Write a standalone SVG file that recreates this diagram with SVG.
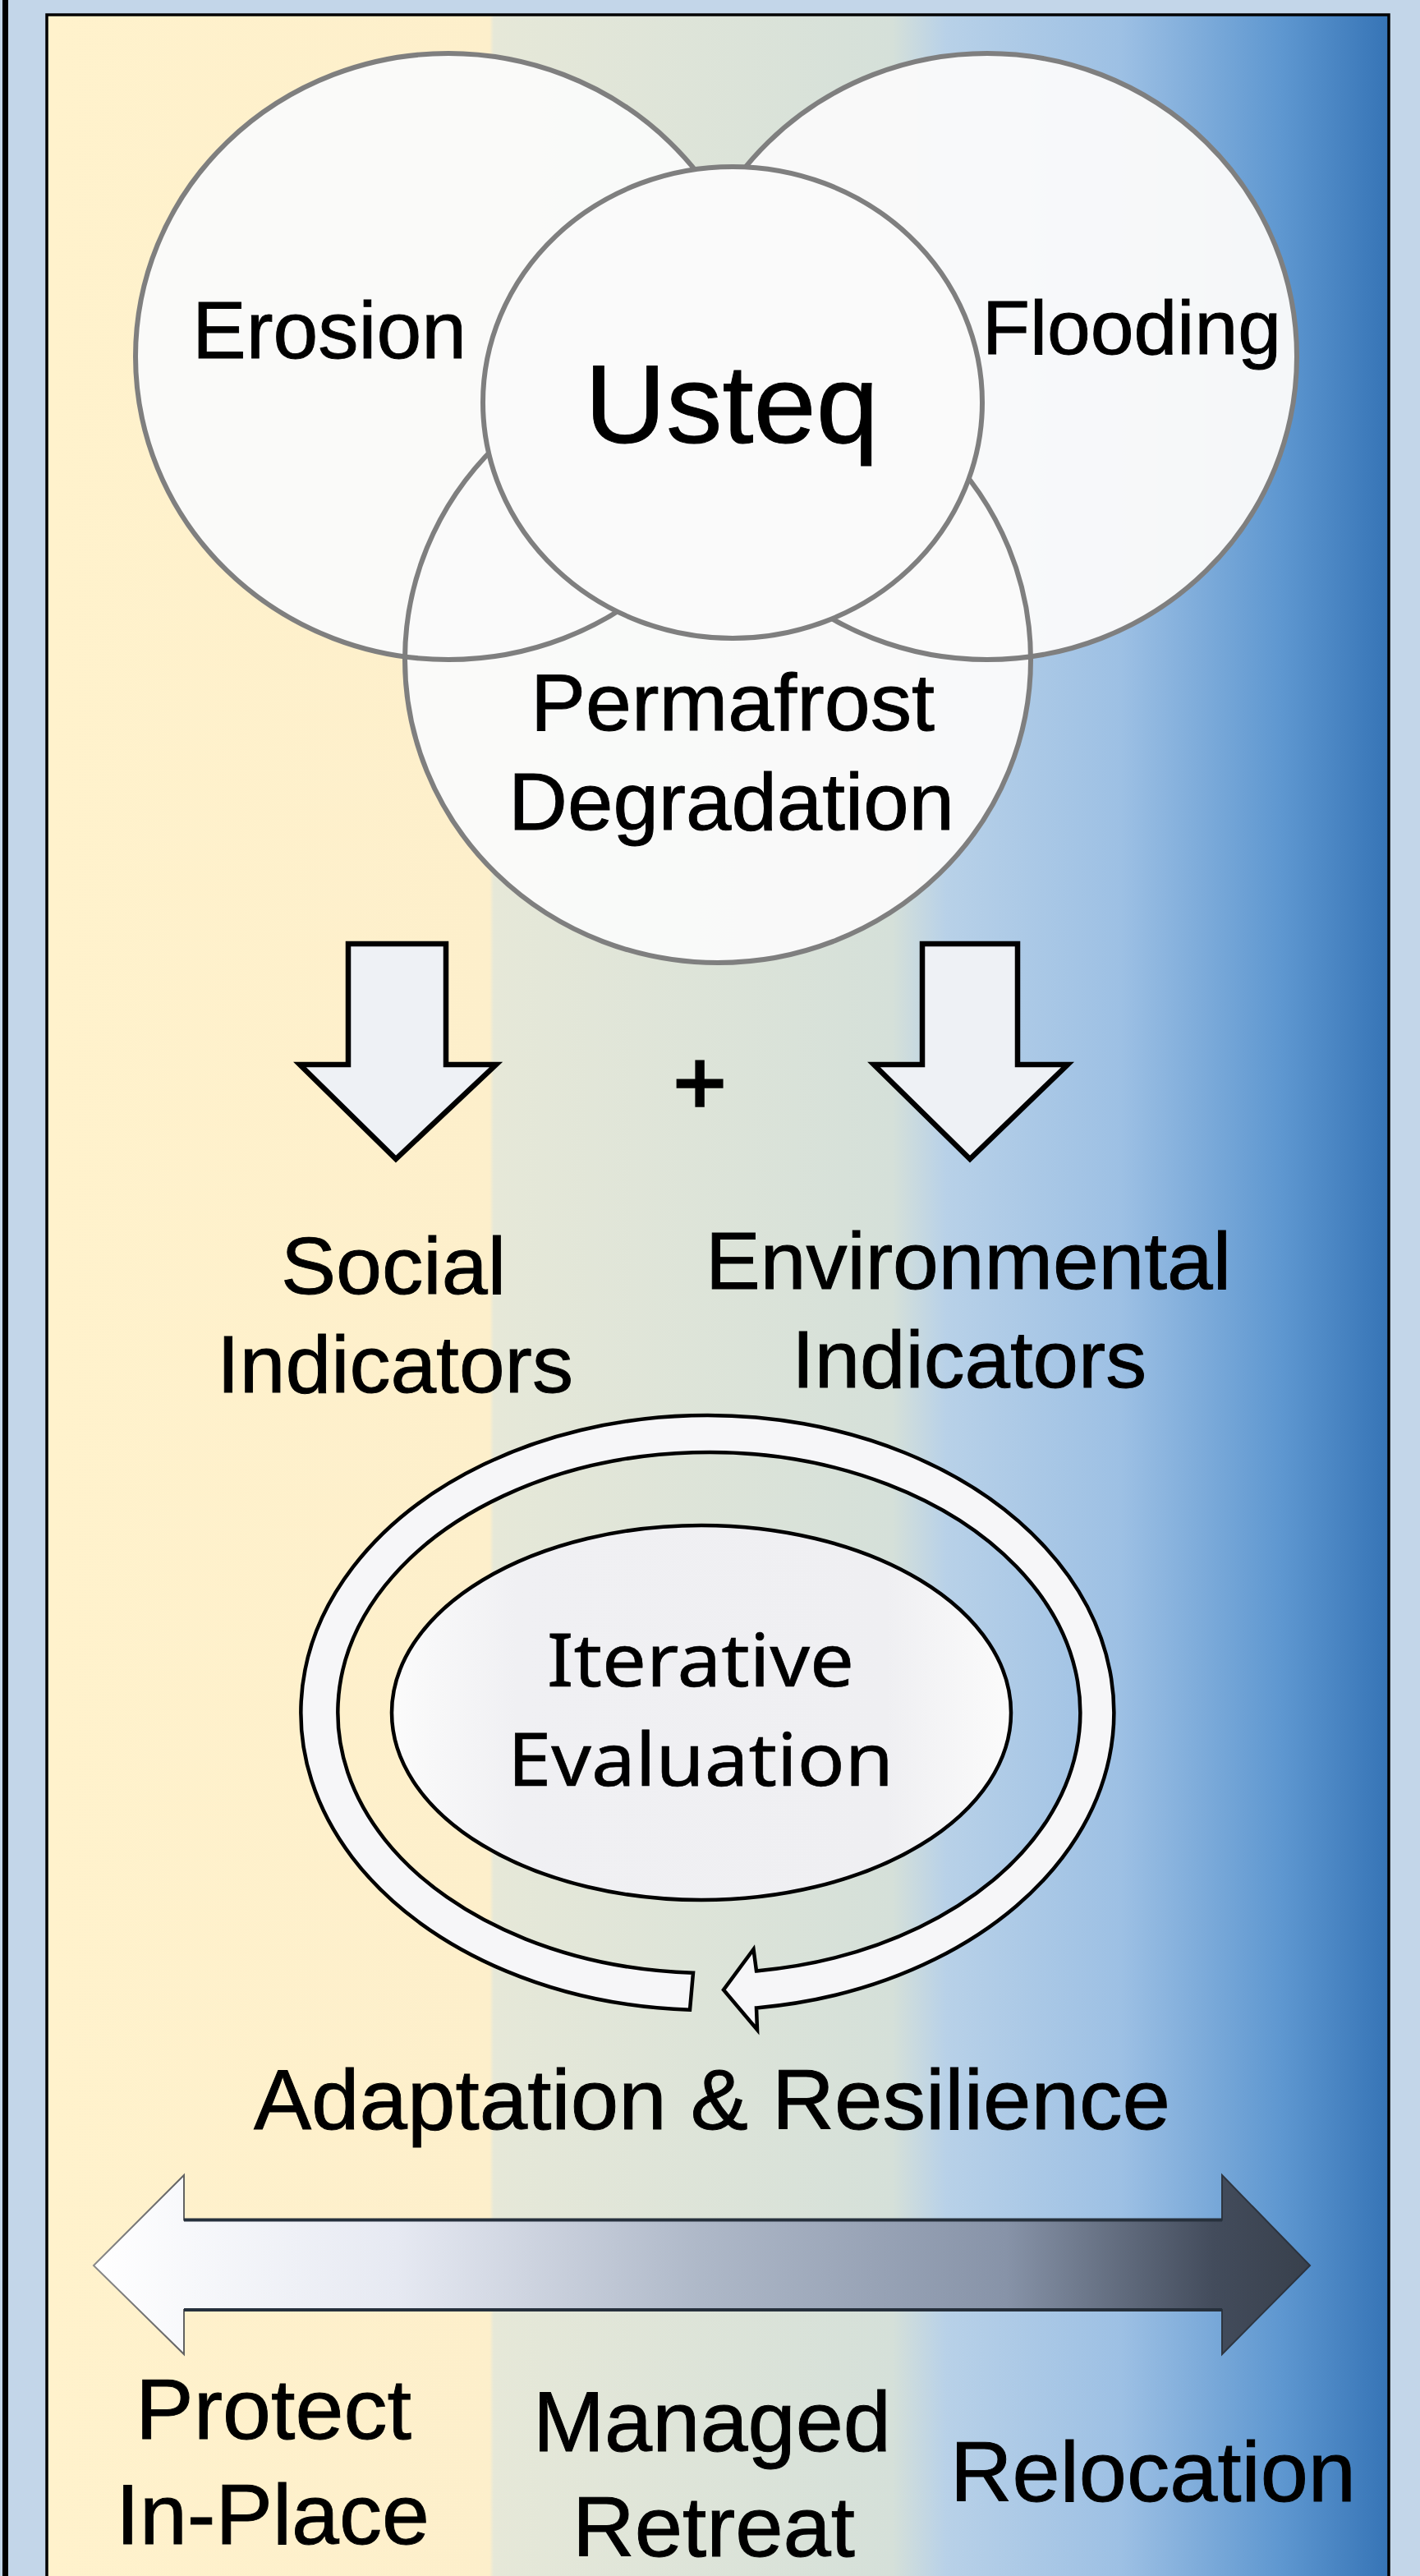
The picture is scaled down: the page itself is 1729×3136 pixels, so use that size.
<svg xmlns="http://www.w3.org/2000/svg" width="1729" height="3136" viewBox="0 0 1729 3136">
<defs>
<linearGradient id="bg" gradientUnits="userSpaceOnUse" x1="57" y1="0" x2="1691" y2="0">
<stop offset="0" stop-color="#FFF2CC"/><stop offset="0.33" stop-color="#FDEFCB"/><stop offset="0.333" stop-color="#E6E8D8"/>
<stop offset="0.63" stop-color="#D5E0D9"/><stop offset="0.67" stop-color="#B8D1E8"/><stop offset="0.8" stop-color="#9DC0E4"/>
<stop offset="0.92" stop-color="#5E97D0"/><stop offset="1" stop-color="#3674B6"/>
</linearGradient>
<linearGradient id="bar" gradientUnits="userSpaceOnUse" x1="114" y1="0" x2="1595" y2="0">
<stop offset="0" stop-color="#FFFFFF"/><stop offset="0.25" stop-color="#E6E9F2"/><stop offset="0.5" stop-color="#AEB8C8"/>
<stop offset="0.75" stop-color="#8793A8"/><stop offset="0.92" stop-color="#434C5C"/><stop offset="1" stop-color="#38404C"/>
</linearGradient>
<linearGradient id="barStroke" gradientUnits="userSpaceOnUse" x1="114" y1="0" x2="1595" y2="0">
<stop offset="0" stop-color="#8A8A8A"/><stop offset="0.1" stop-color="#555555"/><stop offset="1" stop-color="#2A323E"/>
</linearGradient>
<linearGradient id="core" x1="0" y1="0" x2="1" y2="0">
<stop offset="0" stop-color="#FBFBFB"/><stop offset="0.2" stop-color="#F0F0F3"/><stop offset="0.8" stop-color="#EFEFF2"/><stop offset="1" stop-color="#FBFBFB"/>
</linearGradient>
</defs>
<style>
.t{font-family:"Liberation Sans",Arial,sans-serif;fill:#000;stroke:#000;stroke-width:.9}
.n{font-family:"Noto Sans","Open Sans",sans-serif;fill:#000;stroke:#000;stroke-width:.6}
.f{fill:#FAFAFA;fill-opacity:.97;stroke:none}
.s{fill:none;stroke:#7F7F7F;stroke-width:6}
.k{fill:#EEF1F5;stroke:#000;stroke-width:6.5;stroke-linejoin:miter}
</style>
<rect id="outer" width="1729" height="3136" fill="#C3D6E9"/>
<rect id="edge" x="3" y="0" width="7" height="3136" fill="#000"/>
<rect id="panel" x="57" y="18" width="1634" height="3130" fill="url(#bg)" stroke="#000" stroke-width="3.5"/>

<g id="connectors">
<polygon class="k" points="424,1149 543,1149 543,1296 604,1296 482,1411 365,1296 424,1296"/>
<polygon class="k" points="1123,1149 1239,1149 1239,1296 1300,1296 1181,1411 1064,1296 1123,1296"/>
</g>

<g id="circle-erosion">
<ellipse class="f" cx="546" cy="434" rx="381" ry="369"/>
<text class="t" x="234" y="436" font-size="98" textLength="334" lengthAdjust="spacingAndGlyphs">Erosion</text>
</g>
<g id="circle-flooding">
<ellipse class="f" cx="1202" cy="434" rx="377" ry="369"/>
<text class="t" x="1196" y="431" font-size="92" textLength="364" lengthAdjust="spacingAndGlyphs">Flooding</text>
</g>
<g id="circle-permafrost">
<ellipse class="f" cx="874" cy="803" rx="381" ry="369"/>
<text class="t" x="646" y="889" font-size="98" textLength="492" lengthAdjust="spacingAndGlyphs">Permafrost</text>
<text class="t" x="619" y="1010" font-size="98" textLength="543" lengthAdjust="spacingAndGlyphs">Degradation</text>
</g>
<g id="outlines">
<ellipse class="s" cx="546" cy="434" rx="381" ry="369"/>
<ellipse class="s" cx="1202" cy="434" rx="377" ry="369"/>
<ellipse class="s" cx="874" cy="803" rx="381" ry="369"/>
</g>
<g id="circle-usteq">
<ellipse cx="892" cy="490" rx="304" ry="287" fill="#FAFAFA" stroke="#7F7F7F" stroke-width="6"/>
<text class="t" x="712" y="539" font-size="135" textLength="358" lengthAdjust="spacingAndGlyphs">Usteq</text>
</g>

<g id="plus"><text class="t" x="852" y="1356" font-size="110" text-anchor="middle" style="stroke-width:3.5">+</text></g>

<g id="social-indicators">
<text class="t" x="342" y="1575" font-size="99" textLength="274" lengthAdjust="spacingAndGlyphs">Social</text>
<text class="t" x="264" y="1695" font-size="99" textLength="434" lengthAdjust="spacingAndGlyphs">Indicators</text>
</g>
<g id="environmental-indicators">
<text class="t" x="859" y="1569" font-size="99" textLength="640" lengthAdjust="spacingAndGlyphs">Environmental</text>
<text class="t" x="964" y="1689" font-size="99" textLength="432" lengthAdjust="spacingAndGlyphs">Indicators</text>
</g>

<g id="ring">
<path d="M844 2401.7A452 317 0 1 1 921 2399.4L917.5 2373L881 2422.5L922 2471L921 2444.4A495 362 0 1 0 840 2446.7Z" fill="#F6F6F8" stroke="#000" stroke-width="4.5" stroke-linejoin="miter"/>
</g>
<g id="iterative-evaluation">
<ellipse cx="854" cy="2085" rx="377" ry="228" fill="url(#core)" stroke="#000" stroke-width="4.5"/>
<text class="n" x="666" y="2053" font-size="90" textLength="374" lengthAdjust="spacingAndGlyphs">Iterative</text>
<text class="n" x="618" y="2174" font-size="90" textLength="470" lengthAdjust="spacingAndGlyphs">Evaluation</text>
</g>

<g id="adaptation"><text class="t" x="309" y="2592" font-size="104" textLength="1116" lengthAdjust="spacingAndGlyphs">Adaptation &amp; Resilience</text></g>

<g id="spectrum-arrow">
<polygon points="114,2758 224,2648 224,2702.6 1488,2702.6 1488,2648 1595,2758 1488,2866 1488,2812 224,2812 224,2866" fill="url(#bar)" stroke="url(#barStroke)" stroke-width="2"/>
<path d="M224 2702.6H1488M224 2812H1488" fill="none" stroke="#26303C" stroke-width="4"/>
</g>

<g id="protect"><text class="t" x="165" y="2969" font-size="103" textLength="336" lengthAdjust="spacingAndGlyphs">Protect</text>
<text class="t" x="141" y="3097" font-size="103" textLength="382" lengthAdjust="spacingAndGlyphs">In-Place</text></g>
<g id="managed"><text class="t" x="649" y="2984" font-size="103" textLength="436" lengthAdjust="spacingAndGlyphs">Managed</text>
<text class="t" x="697" y="3112" font-size="103" textLength="344" lengthAdjust="spacingAndGlyphs">Retreat</text></g>
<g id="relocation"><text class="t" x="1157" y="3045" font-size="103" textLength="494" lengthAdjust="spacingAndGlyphs">Relocation</text></g>
</svg>
